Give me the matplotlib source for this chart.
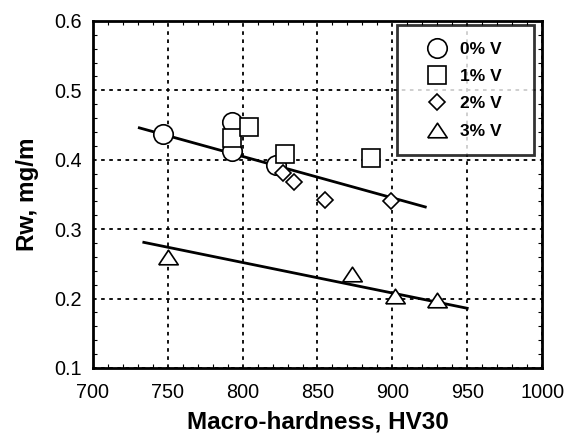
import numpy as np
import matplotlib.pyplot as plt
from matplotlib.ticker import MultipleLocator

plt.rcParams['font.family'] = ['Liberation Sans', 'DejaVu Sans']

# ---- data ----
hv_0v = [747, 793, 793, 822]
rw_0v = [0.437, 0.455, 0.413, 0.393]

hv_1v = [793, 804, 828, 886]
rw_1v = [0.431, 0.447, 0.408, 0.402]

hv_2v = [827, 834, 855, 899]
rw_2v = [0.381, 0.368, 0.342, 0.340]

hv_3v = [750, 873, 902, 930]
rw_3v = [0.260, 0.236, 0.203, 0.198]

# trend lines (end points)
fit_upper_hv = [731, 922]
fit_upper_rw = [0.446, 0.332]
fit_lower_hv = [734, 950]
fit_lower_rw = [0.281, 0.186]

# flatter open triangle, like the original
tri = [(-1, -0.75), (1, -0.75), (0, 0.75), (-1, -0.75)]

fig = plt.figure(figsize=(5.7, 4.37), dpi=100)
ax = fig.add_axes([0.163, 0.158, 0.788, 0.794])

ax.plot(fit_upper_hv, fit_upper_rw, '-k', linewidth=2, zorder=2)
ax.plot(fit_lower_hv, fit_lower_rw, '-k', linewidth=2, zorder=2)

mk = dict(linestyle='none', markerfacecolor='white', markeredgecolor='black',
          markeredgewidth=1.2, zorder=3)
ax.plot(hv_0v, rw_0v, marker='o', markersize=14, label='0% V', **mk)
ax.plot(hv_1v, rw_1v, marker='s', markersize=12.5, label='1% V', **mk)
ax.plot(hv_2v, rw_2v, marker='D', markersize=8.5, label='2% V', **mk)
ax.plot(hv_3v, rw_3v, marker=tri, markersize=14, label='3% V', **mk)

ax.set_xlim(700, 1000)
ax.set_ylim(0.1, 0.6)
ax.xaxis.set_major_locator(MultipleLocator(50))
ax.xaxis.set_minor_locator(MultipleLocator(10))
ax.yaxis.set_major_locator(MultipleLocator(0.1))
ax.yaxis.set_minor_locator(MultipleLocator(0.02))
ax.yaxis.set_major_formatter(plt.FormatStrFormatter('%.1f'))
ax.tick_params(which='both', direction='in', top=True, right=True, labelsize=14.3)
ax.tick_params(axis='x', which='major', length=0, pad=11)
ax.tick_params(axis='y', which='major', length=0, pad=8)
ax.tick_params(which='minor', length=3, width=0.8)
ax.grid(True, which='major', color='black', linestyle=(0, (2, 2.5)), linewidth=1.3)
for s in ax.spines.values():
    s.set_linewidth(2)

ax.set_xlabel('Macro-hardness, HV30', fontsize=17.5, fontweight='bold', labelpad=6)
ax.set_ylabel('Rw, mg/m', fontsize=17.5, fontweight='bold', labelpad=11)

leg = ax.legend(loc='upper left', bbox_to_anchor=(0.677, 0.602, 0.305, 0.386),
                mode='expand', prop={'weight': 'bold', 'size': 12.5}, frameon=True,
                fancybox=False, edgecolor='black', borderpad=0.95, labelspacing=0.7,
                handletextpad=0.0, handlelength=2.7, borderaxespad=0)
leg.get_frame().set_linewidth(2)
leg.set_zorder(5)

fig.savefig('out.png', dpi=100)
